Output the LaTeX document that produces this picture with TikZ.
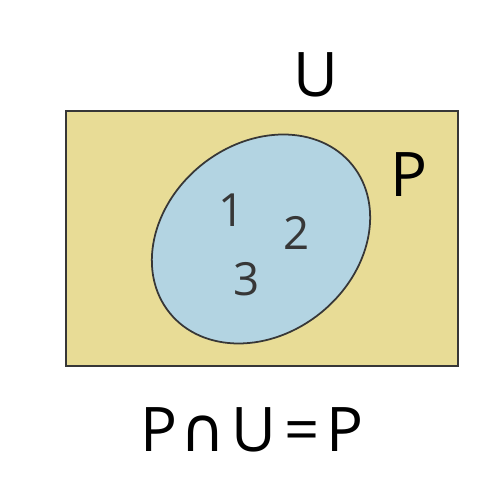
\documentclass[tikz,border=0pt]{standalone}
\usepackage{fontspec}
\setmainfont{Open Sans}
\newfontfamily\symfont{DejaVu Sans}
\usetikzlibrary{positioning,calc,shapes}
\definecolor{univ}{RGB}{232,220,150}
\definecolor{setp}{RGB}{179,212,226}
\definecolor{edge}{RGB}{55,55,55}

\begin{document}
\begin{tikzpicture}[big/.style={font=\fontsize{35}{40}\selectfont},
  elem/.style={font=\fontsize{26}{30}\selectfont,text=edge}]
\useasboundingbox (0,0) rectangle (10,10);
\node[draw=edge,line width=1.1pt,fill=univ,minimum width=7.84cm,minimum height=5.1cm,inner sep=0pt] (U) at (5.24,5.23) {};
\node[draw=edge,line width=1pt,fill=setp,ellipse,minimum width=4.7cm,minimum height=3.8cm,inner sep=0pt,rotate=39] (P) at (5.22,5.22) {};
\node[big] (Ulab) at (6.32,8.5) {U};
\node[big] (Plab) at (8.18,6.5) {P};
\node[elem] (e1) at (4.64,5.8) {1};
\node[elem] (e2) at (5.94,5.34) {2};
\node[elem] (e3) at (4.94,4.42) {3};
\node[big] (eq) at (5.04,1.4) {P{\symfont\kern2pt∩\kern3pt}U{\kern5pt=\kern4pt}P};
\end{tikzpicture}
\end{document}
